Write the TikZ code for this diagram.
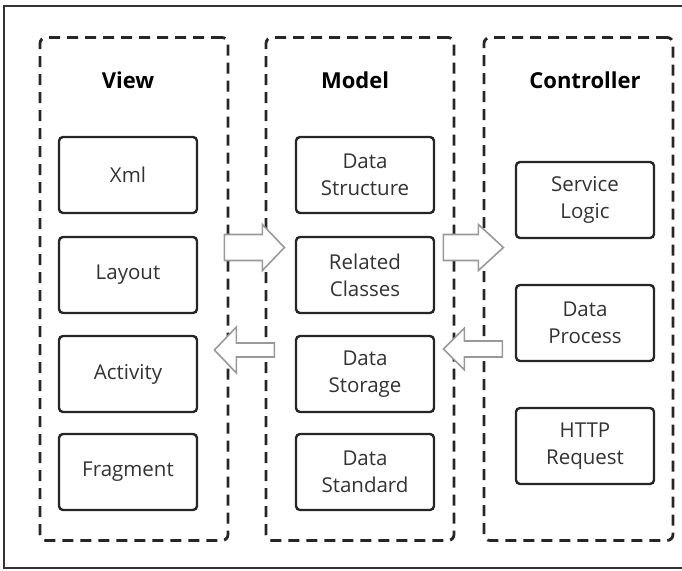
\documentclass[tikz,border=0pt]{standalone}
\usepackage{fontspec}
\setmainfont{Open Sans}
\begin{document}
\begin{tikzpicture}[x=1pt,y=-1pt,
  group/.style={draw=black!85, line width=2.8pt, dash pattern=on 11pt off 7pt,
    rounded corners=6pt, minimum width=188pt, minimum height=503pt, inner sep=0pt},
  item/.style={draw=black!85, line width=2.4pt, rounded corners=4pt, fill=white,
    minimum width=138pt, minimum height=76pt, align=center, inner sep=0pt,
    font=\fontsize{20.5}{27}\selectfont, text=black!80},
  title/.style={font=\fontsize{22}{26}\selectfont\bfseries, text=black},
  flow/.style={draw=black!40, line width=1.6pt, fill=white, line join=miter}
]
\useasboundingbox (0,0) rectangle (682,570);

% frame
\draw[black!80, line width=2pt] (682,6) -- (4,6) -- (4,568) -- (682,568);

% the three layers
\node[group] (view)  at (134,289) {};
\node[group] (model) at (360,289) {};
\node[group, minimum width=189pt] (ctrl) at (578.5,289) {};

\node[title] (tv) at (128,80) {View};
\node[title] (tm) at (355,80) {Model};
\node[title] (tc) at (585,80) {Controller};

% View
\node[item] (xml)   at (128,175) {Xml};
\node[item] (lay)   at (128,275) {Layout};
\node[item] (act)   at (128,374) {Activity};
\node[item] (frag)  at (128,472) {Fragment};

% Model
\node[item] (ds)    at (365,175) {Data\\Structure};
\node[item] (rc)    at (365,275) {Related\\Classes};
\node[item] (dst)   at (365,374) {Data\\Storage};
\node[item] (dstd)  at (365,472) {Data\\Standard};

% Controller
\node[item] (sl)    at (585,200) {Service\\Logic};
\node[item] (dp)    at (585,323) {Data\\Process};
\node[item] (http)  at (585,446) {HTTP\\Request};

% hollow block arrows between the layers
\coordinate (a1) at (view.east |- 0,228);
\coordinate (a2) at (model.east |- 0,228);
\coordinate (a3) at (view.east |- 0,336);
\coordinate (a4) at (model.east |- 0,333);

\draw[flow] ([xshift=-5pt,yshift=-6.5pt]a1) -- ++(38,0) -- ++(0,-10) -- ++(22,23)
  -- ++(-22,23) -- ++(0,-10) -- ++(-38,0) -- cycle;
\draw[flow] ([xshift=-12pt,yshift=-6.5pt]a2) -- ++(35,0) -- ++(0,-10) -- ++(25,23)
  -- ++(-25,23) -- ++(0,-10) -- ++(-35,0) -- cycle;
\draw[flow] ([xshift=45pt,yshift=-7pt]a3) -- ++(-38,0) -- ++(0,-16) -- ++(-22,23)
  -- ++(22,23) -- ++(0,-16) -- ++(38,0) -- cycle;
\draw[flow] ([xshift=47pt,yshift=-8pt]a4) -- ++(-38,0) -- ++(0,-13) -- ++(-21,21)
  -- ++(21,21) -- ++(0,-13) -- ++(38,0) -- cycle;
\end{tikzpicture}
\end{document}
